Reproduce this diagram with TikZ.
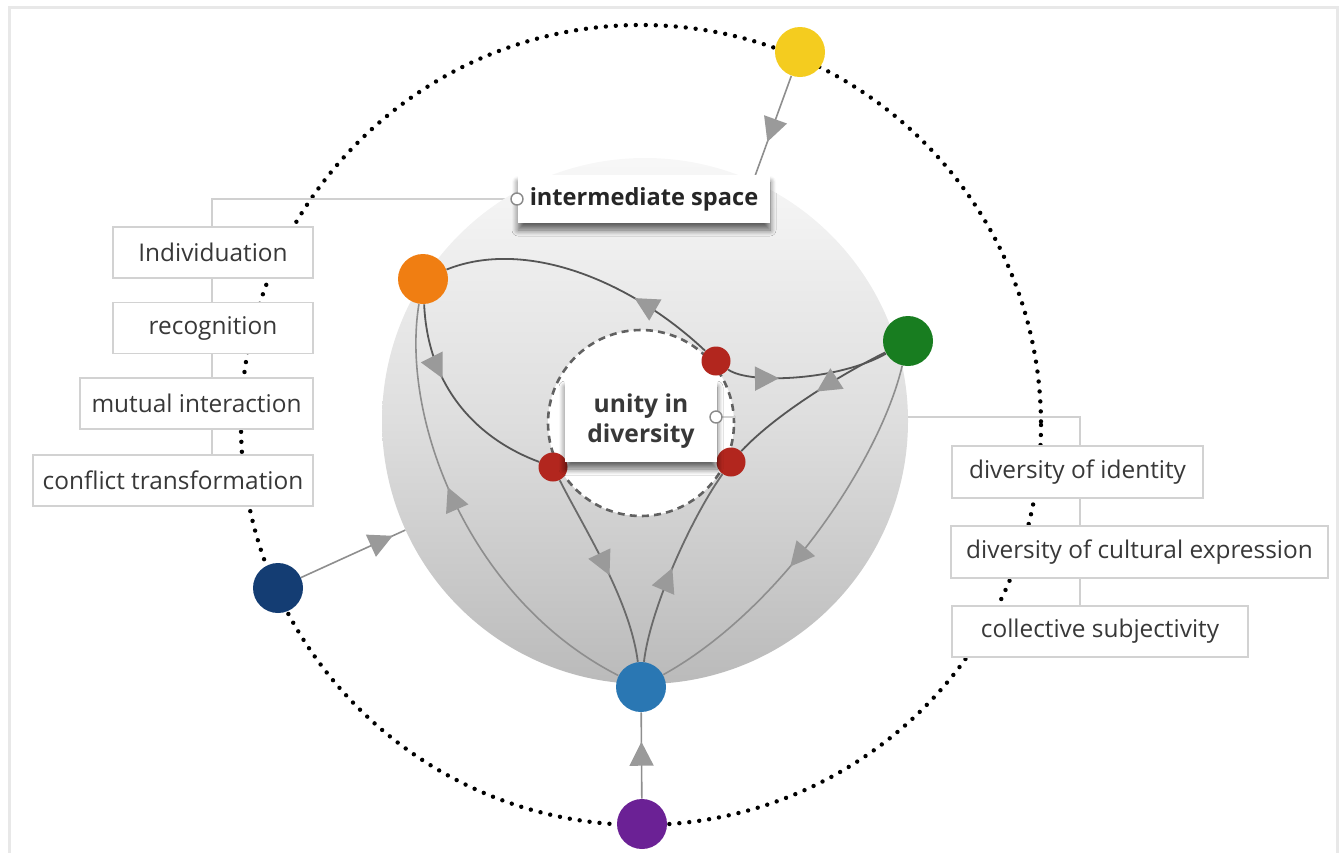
\documentclass[tikz,border=0pt]{standalone}
\usepackage{fontspec}
\setmainfont{Open Sans}
\usetikzlibrary{arrows.meta,decorations.markings,shadows.blur,calc}

\definecolor{txt}{HTML}{383838}
\definecolor{boxline}{HTML}{D2D2D2}
\definecolor{frameline}{HTML}{E8E8E8}
\definecolor{connline}{HTML}{D0D0D0}
\definecolor{linedark}{HTML}{555555}
\definecolor{linemid}{HTML}{6A6A6A}
\definecolor{linelight}{HTML}{8E8E8E}
\definecolor{arrowgrey}{HTML}{9A9A9A}
\definecolor{handlegrey}{HTML}{8A8A8A}
\definecolor{cyellow}{HTML}{F4CC1F}
\definecolor{corange}{HTML}{F07E12}
\definecolor{cgreen}{HTML}{187D20}
\definecolor{cnavy}{HTML}{143D73}
\definecolor{cblue}{HTML}{2A77B3}
\definecolor{cpurple}{HTML}{6B2195}
\definecolor{cred}{HTML}{B2261E}

\begin{document}
\begin{tikzpicture}[x=0.5pt,y=-0.5pt,
  font=\fontsize{12.2}{14}\selectfont,
  lbl/.style={draw=boxline, line width=0.8pt, fill=white, inner sep=0pt,
    minimum height=25.5pt, text=txt},
  dot/.style={circle, inner sep=0pt, minimum size=25pt},
  reddot/.style={circle, inner sep=0pt, minimum size=14.5pt, fill=cred},
  handle/.style={circle, inner sep=0pt, minimum size=6pt, fill=white,
    draw=handlegrey, line width=0.7pt},
  conn/.style={draw=connline, line width=0.8pt},
  flowdark/.style={draw=linedark, line width=0.9pt},
  flowmid/.style={draw=linemid, line width=0.9pt},
  flowlight/.style={draw=linelight, line width=0.8pt},
  arr/.style={postaction={decorate}, decoration={markings,
    mark=at position #1 with {\arrow{Triangle[length=12pt,width=12pt,color=arrowgrey]}}}},
  ring/.style={draw=black, line width=2.2pt, line cap=round, dash pattern=on 0pt off 5pt},
  boxshadow/.style={blur shadow={shadow xshift=0pt, shadow yshift=-3.5pt,
    shadow blur steps=8, shadow blur radius=3pt, shadow opacity=60}}
]
\useasboundingbox (0,0) rectangle (1339,853);

% thin page frame
\draw[frameline, line width=1.5pt] (9,853) -- (9,7) -- (1337,7) -- (1337,853);
% outer dotted orbit
\draw[ring] (641,425) circle[radius=400];

% anchor points for the two label handles and the column connectors
\coordinate (ihc) at (517,199);
\coordinate (uhc) at (716,417);
\coordinate (lc) at (212,199);
\coordinate (lend) at (212,455);
\coordinate (rc) at (1080,417);
\coordinate (rend) at (1080,606);
\draw[conn] (ihc) -- (lc) -- (lend);
\draw[conn] (uhc) -- (rc) -- (rend);

% label boxes (left column)
\node[lbl, minimum width=100pt] (b1) at (213,252.5) {Individuation};
\node[lbl, minimum width=100pt] (b2) at (213,328) {recognition};
\node[lbl, minimum width=116.5pt] (b3) at (196.5,403.5) {mutual interaction};
\node[lbl, minimum width=140pt] (b4) at (173,480.5) {conflict transformation};
% label boxes (right column)
\node[lbl, minimum width=125.5pt, minimum height=26pt] (b5) at (1077.5,472) {diversity of identity};
\node[lbl, minimum width=188.5pt, minimum height=26pt] (b6) at (1139.5,552) {diversity of cultural expression};
\node[lbl, minimum width=148pt] (b7) at (1100,631.5) {collective subjectivity};

% grey disc and inner dashed circle
\node[circle, inner sep=0pt, minimum size=263pt,
  top color=black!3, bottom color=black!27, middle color=black!13] (disk) at (645,421) {};
\node[circle, inner sep=0pt, minimum size=93pt, fill=white,
  draw=black!62, line width=1.3pt, dash pattern=on 3.5pt off 2.6pt] (inner) at (641,423) {};
\draw[conn] (uhc) -- (uhc -| inner.east);

% coloured nodes
\node[dot, fill=cyellow] (yellow) at (800,52) {};
\node[dot, fill=corange] (orange) at (423,279) {};
\node[dot, fill=cgreen] (green) at (908,341) {};
\node[dot, fill=cnavy] (navy) at (278,588) {};
\node[dot, fill=cblue] (blue) at (641,687) {};
\node[dot, fill=cpurple] (purple) at (642,824) {};
\node[reddot] (r1) at (716,361) {};
\node[reddot] (r2) at (553,467) {};
\node[reddot] (r3) at (731,462) {};

% flows between the nodes
\draw[flowdark, arr=0.31] (r1) .. controls (630,280) and (525,238) .. (orange);
\draw[flowdark, arr=0.32] (r1) .. controls (750,385) and (840,380) .. (green);
\draw[flowdark, arr=0.45] (green) .. controls (850,370) and (780,410) .. (r3);
\draw[flowlight, arr=0.58] (green) .. controls (880,460) and (780,610) .. (blue);
\draw[flowlight, arr=0.58] (blue) .. controls (470,600) and (400,420) .. (orange);
\draw[flowdark, arr=0.37] (orange) .. controls (428,390) and (480,440) .. (r2);
\draw[flowmid, arr=0.54] (r2) .. controls (585,530) and (630,600) .. (blue);
\draw[flowmid, arr=0.48] (blue) .. controls (650,610) and (690,520) .. (r3);
\coordinate (ientry) at (755,176);
\draw[flowlight, arr=0.66] (yellow) -- (ientry);
\draw[flowlight, arr=0.88] (navy) -- (disk);
\draw[flowlight, arr=0.66] (purple) -- (blue);

% central labels
\node[fill=white, boxshadow, inner sep=0pt, minimum width=76pt, minimum height=41pt,
  align=center, text=txt, font=\fontsize{12.3}{15}\selectfont\bfseries] (unity) at (641,421) {unity in\\diversity};
\node[fill=white, boxshadow, inner sep=0pt, minimum width=126pt, minimum height=24pt,
  text=black!85, font=\fontsize{11.8}{14}\selectfont\bfseries] (ibox) at (644,199) {intermediate space};
\node[handle] (ih) at (ihc) {};
\node[handle] (uh) at (uhc) {};
\end{tikzpicture}
\end{document}
